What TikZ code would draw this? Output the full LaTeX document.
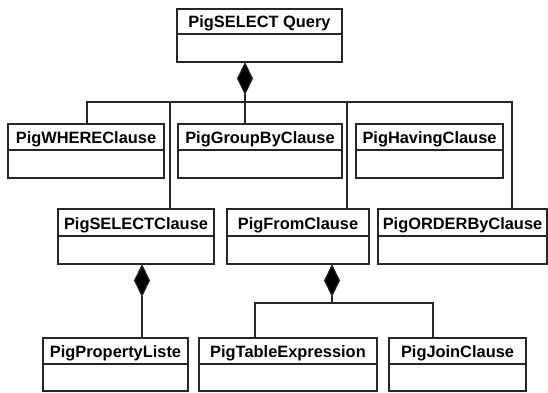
\documentclass[tikz,border=0pt]{standalone}
\usepackage{fontspec}
\setmainfont{Liberation Sans}
\usetikzlibrary{arrows.meta,calc}

% UML class box: outer frame as a named node, title on a baseline in the header, divider line
\newcommand{\umlclass}[7]{%
  \node[clsframe, minimum width={#4-#2}, minimum height={#5-#3}] (#1) at (#2,#3) {};
  \node[clstitle] (#1-t) at ({(#2+#4)/2},{#6-6.3}) {#7};
  \draw[clsline] (#2,#6) -- (#4,#6);
}

\begin{document}
\begin{tikzpicture}[x=1pt,y=-1pt,
  clsline/.style={line width=1.1pt, draw=black!85},
  clsframe/.style={clsline, rectangle, anchor=north west, inner sep=0pt, outer sep=0pt},
  clstitle/.style={inner sep=0pt, anchor=base, font=\fontsize{16.4}{18}\selectfont\bfseries},
  link/.style={clsline},
  compo/.style={clsline, {Diamond[length=33pt,width=16pt,fill=black]}-}]
\useasboundingbox (0,0) rectangle (548,392);

% classes
\umlclass{query}{177}{9}{342}{62}{34}{PigSELECT Query}
\umlclass{where}{8}{124}{164}{178}{150}{PigWHEREClause}
\umlclass{groupby}{178}{124}{342}{178}{150}{PigGroupByClause}
\umlclass{having}{356}{124}{503}{178}{150}{PigHavingClause}
\umlclass{selectc}{58}{209}{214}{264}{236}{PigSELECTClause}
\umlclass{from}{227}{209}{369}{264}{236}{PigFromClause}
\umlclass{order}{378}{209}{547}{264}{236}{PigORDERByClause}
\umlclass{prop}{43}{338}{188}{391}{364}{PigPropertyListe}
\umlclass{table}{199}{338}{377}{391}{364}{PigTableExpression}
\umlclass{join}{389}{338}{526}{391}{364}{PigJoinClause}

% composition from the query to its clauses
\coordinate (qj) at (245,102);
\coordinate (bl) at (87,102);
\coordinate (br) at (512,102);
\coordinate (b2) at (170,102);
\coordinate (b3) at (347,102);
\draw[compo] (qj |- query.south) -- (qj |- groupby.north);
\draw[link] (bl |- where.north) -- (bl) -- (br) -- (br |- order.north);
\draw[link] (b2) -- (b2 |- selectc.north);
\draw[link] (b3) -- (b3 |- from.north);

% composition of the SELECT clause
\coordinate (sj) at (142,300);
\draw[compo] (sj |- selectc.south) -- (sj |- prop.north);

% composition of the FROM clause
\coordinate (fj) at (332,303);
\coordinate (fl) at (255,303);
\coordinate (fr) at (433,303);
\draw[compo] (fj |- from.south) -- (fj);
\draw[link] (fl |- table.north) -- (fl) -- (fr) -- (fr |- join.north);
\end{tikzpicture}
\end{document}
